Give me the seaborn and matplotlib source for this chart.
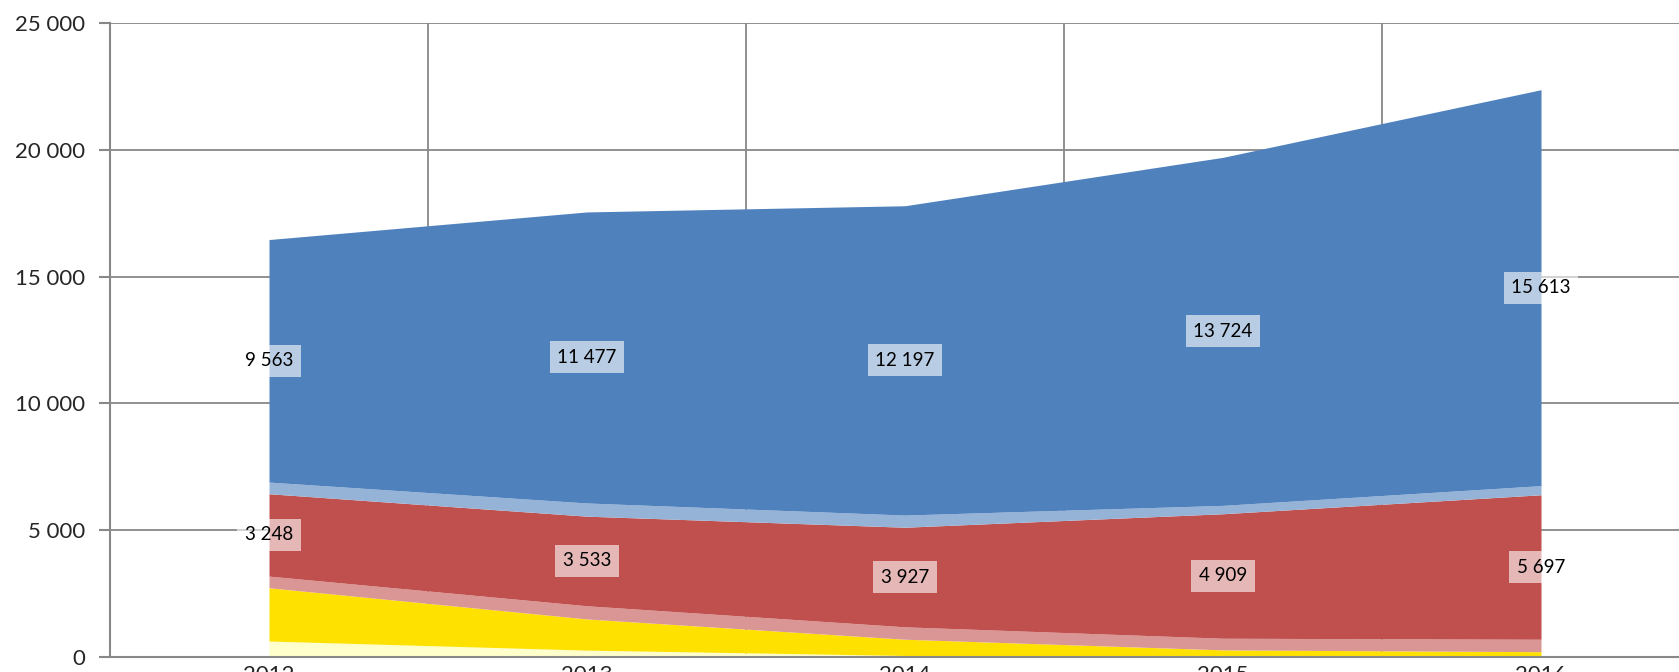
import matplotlib
matplotlib.use("Agg")
import matplotlib.pyplot as plt
import seaborn as sns
import numpy as np

years = ["2012", "2013", "2014", "2015", "2016"]
pale_yellow = [630, 270, 60, 30, 20]
yellow = [2100, 1230, 640, 250, 190]
pink = [460, 520, 490, 460, 490]
red = [3248, 3533, 3927, 4909, 5697]
light_blue = [460, 520, 480, 330, 360]
blue = [9563, 11477, 12197, 13724, 15613]

y_ticks = [0, 5000, 10000, 15000, 20000, 25000]

sns.set_theme(style="white")
plt.rcParams['font.family'] = ['Lato', 'DejaVu Sans']

colors = sns.color_palette(["#FFFFCC", "#FFE100", "#D99694", "#C0504D", "#95B3D7", "#4F81BD"])

fig = plt.figure(figsize=(16.79, 6.72), dpi=100)
ax = fig.add_axes([110 / 1679, 15 / 672, 1590 / 1679, 634 / 672])

x = np.arange(len(years))
series = [pale_yellow, yellow, pink, red, light_blue, blue]
ax.stackplot(x, *series, colors=colors, linewidth=0, zorder=2)

ax.set_xlim(-0.5, len(years) - 0.5)
ax.set_ylim(0, 25000)

def fmt(v):
    return f"{int(v):,}".replace(",", " ")

ax.set_yticks(y_ticks)
ax.set_yticklabels([fmt(v) for v in y_ticks], fontsize=16)
ax.set_xticks(np.arange(-0.5, len(years) + 0.5, 1.0))
ax.set_xticklabels([])
ax.set_xticks(x, minor=True)
ax.set_xticklabels(years, minor=True, fontsize=16)
ax.tick_params(axis="x", which="minor", length=0, pad=6)
ax.tick_params(axis="x", which="major", direction="out", length=8, width=1.5, color="#888888")
ax.tick_params(axis="y", direction="out", length=8, width=1.5, color="#888888", pad=10, left=True)

ax.grid(True, which="major", color="#888888", linewidth=1.3)
ax.set_axisbelow(True)
for s in ["top", "right"]:
    ax.spines[s].set_visible(False)
for s in ["left", "bottom"]:
    ax.spines[s].set_color("#888888")
    ax.spines[s].set_linewidth(1.5)
    ax.spines[s].set_zorder(3)

cum = np.zeros(len(years))
for vals in series:
    v = np.array(vals, dtype=float)
    if vals is red or vals is blue:
        for i in range(len(years)):
            ax.text(x[i], cum[i] + v[i] / 2, fmt(v[i]), ha="center", va="center",
                    fontsize=13.5, color="black", zorder=5,
                    bbox=dict(boxstyle="square,pad=0.4", facecolor="white",
                              edgecolor="none", alpha=0.6))
    cum += v

fig.savefig("out.png", dpi=100)
